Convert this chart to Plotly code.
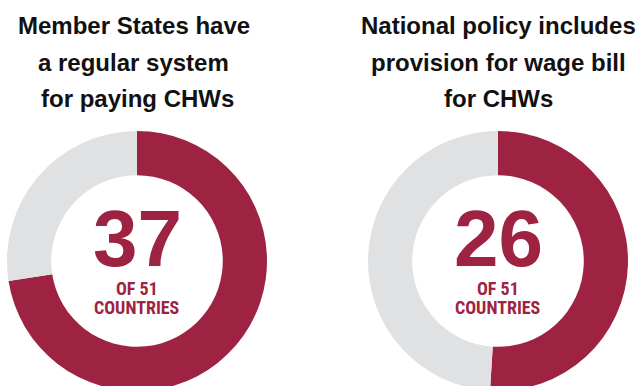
import plotly.graph_objects as go

# Data
total_countries = 51
indicators = [
    "Member States have<br>a regular system<br>for paying CHWs",
    "National policy includes<br>provision for wage bill<br>for CHWs",
]
yes_counts = [37, 26]

RED = "#9E2342"
GREY = "#E0E1E3"

W, H = 641, 392   # canvas a little taller than the window so the rings run off the bottom
R = 130           # ring outer radius in px
TOP = 131         # top of the rings in px
centers_x = [137, 498]
title_x = [[133.5, 133.5, 137], [498, 498, 498]]
title_mid_y = [25, 62, 99]


def px_x(x):
    return x / W


def px_y(y):
    return 1 - y / H


fig = go.Figure()

for i, (label, yes) in enumerate(zip(indicators, yes_counts)):
    cx = centers_x[i]
    fig.add_trace(go.Pie(
        values=[yes, total_countries - yes],
        labels=["Yes", "No"],
        marker=dict(colors=[RED, GREY], line=dict(width=0)),
        hole=0.66,
        sort=False,
        direction="clockwise",
        rotation=0,
        textinfo="none",
        hoverinfo="skip",
        showlegend=False,
        domain=dict(x=[px_x(cx - R), px_x(cx + R)],
                    y=[px_y(TOP + 2 * R), px_y(TOP)]),
    ))

    # Title, one annotation per line for exact spacing
    for j, line in enumerate(label.split("<br>")):
        fig.add_annotation(
            text=line, x=px_x(title_x[i][j]), y=px_y(title_mid_y[j]),
            xref="paper", yref="paper", xanchor="center", yanchor="middle",
            showarrow=False,
            font=dict(family="Liberation Sans, Arial, sans-serif", size=24,
                      color="#111111", weight="bold"),
        )

    # Centre figures
    fig.add_annotation(
        text=str(yes), x=px_x(cx), y=px_y(238), height=62,
        xref="paper", yref="paper", xanchor="center", yanchor="middle",
        valign="middle", showarrow=False,
        font=dict(family="Liberation Sans, Arial, sans-serif", size=80,
                  color=RED, weight="bold"),
    )
    fig.add_annotation(
        text=f"OF {total_countries}", x=px_x(cx), y=px_y(288), height=16,
        xref="paper", yref="paper", xanchor="center", yanchor="middle",
        valign="middle", showarrow=False,
        font=dict(family="Liberation Sans Narrow, Roboto Condensed, sans-serif",
                  size=18, color=RED, weight="bold"),
    )
    fig.add_annotation(
        text="COUNTRIES", x=px_x(cx), y=px_y(307), height=16,
        xref="paper", yref="paper", xanchor="center", yanchor="middle",
        valign="middle", showarrow=False,
        font=dict(family="Liberation Sans Narrow, Roboto Condensed, sans-serif",
                  size=18, color=RED, weight="bold"),
    )

fig.update_layout(
    width=W, height=H,
    margin=dict(l=0, r=0, t=0, b=0),
    paper_bgcolor="white",
    plot_bgcolor="white",
)

fig.write_html(
    "out.html",
    config={"displayModeBar": False, "staticPlot": True},
    post_script="document.documentElement.style.overflow='hidden';"
                "document.body.style.overflow='hidden';document.body.style.margin='0';",
)
